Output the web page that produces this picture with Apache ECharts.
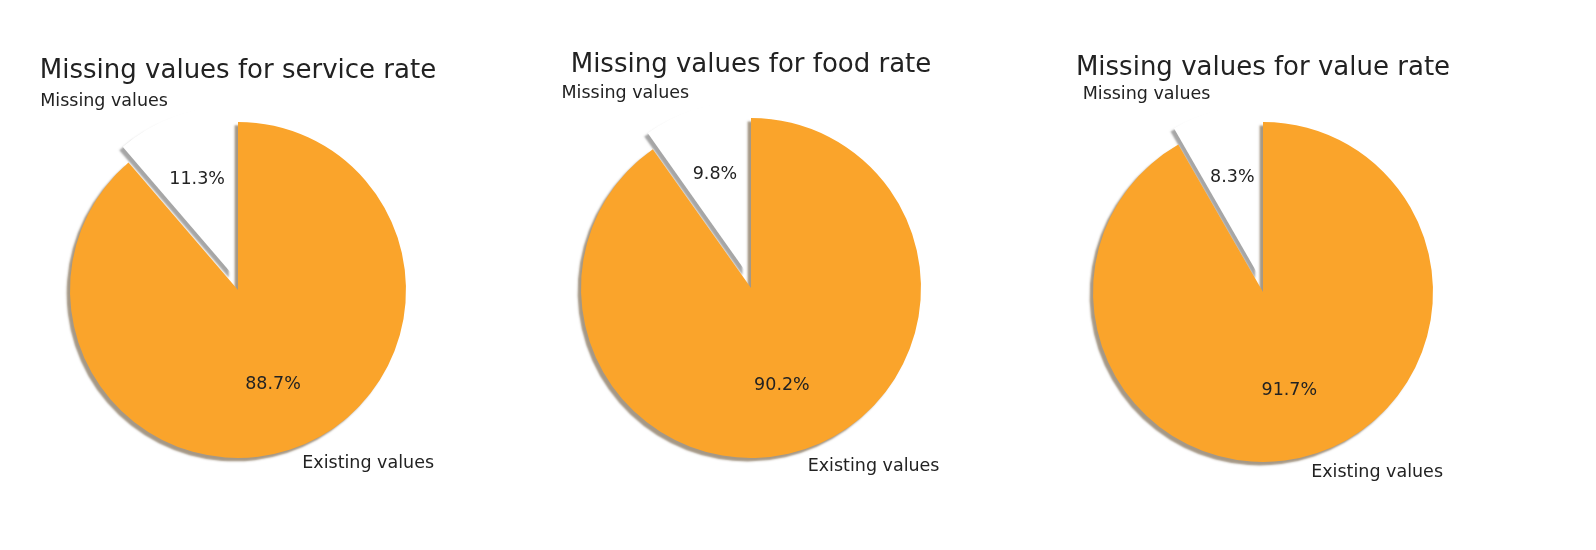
<!DOCTYPE html>
<html>
<head>
<meta charset="utf-8">
<script src="https://cdn.jsdelivr.net/npm/echarts@6/dist/echarts.min.js"></script>
<style>
html,body{margin:0;padding:0;background:#fff;}
#chart{width:1596px;height:550px;}
</style>
</head>
<body>
<div id="chart"></div>
<script>
// ---- data ----
const titles = ['Missing values for service rate', 'Missing values for food rate', 'Missing values for value rate'];
const categories = ['Missing values', 'Existing values'];
const missingPct = [11.3, 9.8, 8.3];
const existingPct = [88.7, 90.2, 91.7];

// ---- layout (not data) ----
const centers = [[238, 290], [751, 288], [1263, 292]];
const radii = [168, 170, 170];
const titleY = [71, 65, 68];
const colMissing = '#ffffff';
const colExisting = '#FAA42B';
const font = 'DejaVu Sans';

const chart = echarts.init(document.getElementById('chart'), null, {renderer: 'canvas'});

const title = titles.map((t, i) => ({
  text: t,
  left: centers[i][0],
  top: titleY[i],
  textAlign: 'center',
  textVerticalAlign: 'middle',
  padding: 0,
  textStyle: {fontFamily: font, fontSize: 26, fontWeight: 'normal', color: '#222'}
}));

const series = [];
titles.forEach((t, i) => {
  const r = radii[i];
  const off = 0.1 * r;
  const vals = [missingPct[i], existingPct[i]];
  const shadowCols = ['rgba(77,77,77,0.5)', 'rgba(75,50,13,0.5)'];
  const cols = [colMissing, colExisting];
  // slices + category labels
  series.push({
    type: 'pie',
    center: centers[i],
    radius: [0, r],
    startAngle: 90,
    clockwise: false,
    avoidLabelOverlap: false,
    selectedMode: 'multiple',
    selectedOffset: off,
    animation: false,
    silent: true,
    label: {
      show: true,
      position: 'outside',
      formatter: '{b}',
      fontFamily: font,
      fontSize: 17.5,
      color: '#222',
      distanceToLabelLine: 0
    },
    labelLine: {show: false, length: off, length2: 0},
    emphasis: {disabled: true},
    data: categories.map((c, k) => ({
      name: c,
      value: vals[k],
      selected: k === 0,
      itemStyle: {
        color: cols[k],
        shadowColor: shadowCols[k],
        shadowBlur: 2,
        shadowOffsetX: -0.02 * r,
        shadowOffsetY: 0.02 * r
      },
      select: {itemStyle: {color: cols[k], shadowColor: shadowCols[k], shadowBlur: 2, shadowOffsetX: -0.02 * r, shadowOffsetY: 0.02 * r}}
    }))
  });
  // percentage labels at 0.6 r
  series.push({
    type: 'pie',
    center: centers[i],
    radius: [0, 1.2 * r - 6],
    startAngle: 90,
    clockwise: false,
    avoidLabelOverlap: false,
    selectedMode: 'multiple',
    selectedOffset: off,
    animation: false,
    silent: true,
    label: {
      show: true,
      position: 'inside',
      formatter: p => p.percent.toFixed(1) + '%',
      fontFamily: font,
      fontSize: 17.5,
      color: '#222'
    },
    labelLine: {show: false},
    itemStyle: {color: 'rgba(0,0,0,0)'},
    emphasis: {disabled: true},
    data: categories.map((c, k) => ({
      name: c,
      value: vals[k],
      selected: k === 0,
      select: {itemStyle: {color: 'rgba(0,0,0,0)'}, label: {color: '#222'}}
    }))
  });
});

chart.setOption({backgroundColor: '#fff', title: title, series: series});
</script>
</body>
</html>
